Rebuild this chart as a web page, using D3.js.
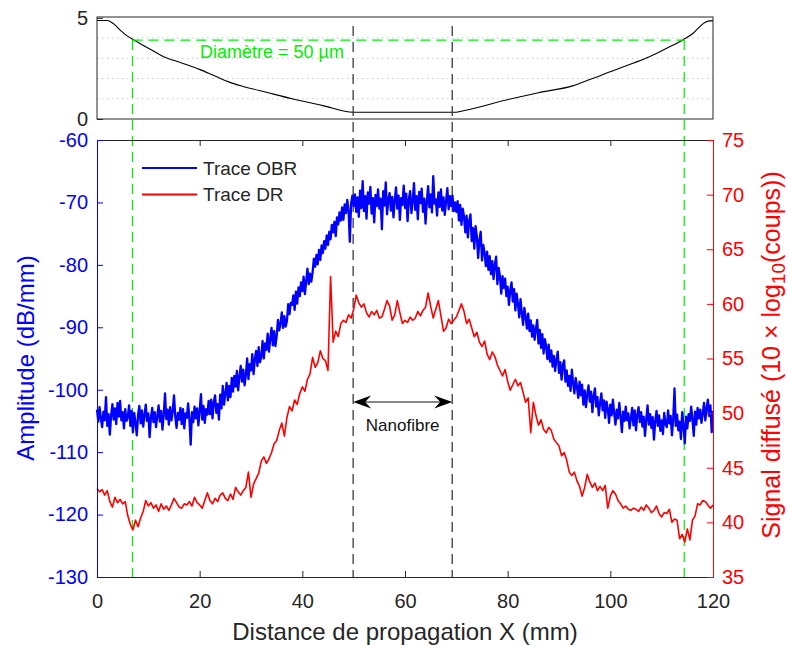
<!DOCTYPE html>
<html><head><meta charset="utf-8">
<script src="https://cdn.jsdelivr.net/npm/d3@7"></script>
<style>html,body{margin:0;padding:0;background:#fff;}svg{display:block;font-family:"Liberation Sans",Arial,Helvetica,sans-serif;}</style>
</head><body>
<script>
// ---------- DATA ----------
const xTicks = [0, 20, 40, 60, 80, 100, 120];
const leftTicks = [-130, -120, -110, -100, -90, -80, -70, -60];
const rightTicks = [35, 40, 45, 50, 55, 60, 65, 70, 75];
const topTicks = [0, 5];
const topGrid = [1, 2, 3, 4];
const seriesNames = ["Trace OBR", "Trace DR"];

// OBR trace (dB/mm), uniform sampling over 0..120 mm
const obrValues = [
-103.2,-105.1,-102.8,-104.6, -106.0,-103.5,-104.9,-101.2, -105.8,-103.9,-107.2,-104.1, -102.3,-104.8,-103.0,-105.5,
-102.1,-104.3,-101.8,-104.9, -103.6,-106.2,-103.1,-105.0, -104.4,-102.5,-105.8,-103.4, -106.8,-103.7,-105.3,-107.3,
-104.0,-102.6,-105.4,-103.3, -105.9,-104.1,-102.4,-105.0, -103.8,-107.6,-104.5,-102.9, -105.2,-103.6,-106.0,-104.2,
-102.5,-105.1,-103.4,-106.4, -104.0,-100.6,-104.7,-103.2, -105.6,-102.8,-104.9,-103.5, -100.9,-104.3,-106.1,-103.7,
-104.8,-102.9,-105.5,-103.1, -106.2,-103.8,-104.5,-102.2, -104.7,-108.8,-103.6,-105.2, -102.7,-104.6,-103.0,-105.7,
-103.4,-100.7,-104.8,-102.6, -105.3,-103.1,-104.0,-101.8,
-103.9,-101.6,-104.6,-102.0, -100.9,-103.7,-102.3,-104.8, -100.8,-103.0,-99.4,-102.4, -100.6,-98.9,-101.7,-99.4,
-101.2,-98.1,-100.3,-97.8, -99.5,-97.0,-100.1,-97.9, -96.2,-98.7,-96.8,-99.3, -97.6,-95.0,-98.3,-95.9,
-96.9,-94.3,-97.5,-95.1, -93.8,-96.2,-93.2,-95.6, -94.8,-92.2,-95.0,-92.6, -93.6,-91.0,-93.9,-91.8,
-90.1,-92.9,-90.6,-93.0, -91.4,-88.8,-90.5,-89.4, -87.6,-90.1,-88.2,-89.9, -89.0,-86.3,-87.9,-86.1,
-86.4,-84.9,-87.2,-84.3, -86.2,-83.6,-85.0,-82.8, -84.2,-81.9,-84.7,-82.6, -80.6,-83.1,-81.4,-82.7,
-81.2,-79.0,-80.3,-78.4, -79.9,-77.6,-79.2,-76.9, -78.1,-76.2,-77.4,-75.3, -76.8,-74.7,-75.9,-73.6,
-74.8,-73.1,-75.4,-72.4, -73.5,-71.6,-72.9,-70.8, -72.8,-70.3,-71.7,-69.6, -71.3,-76.3,-70.2,-68.9,
-70.6,-68.7,-71.5,-69.2, -72.3,-68.1,-70.9,-66.6, -71.4,-69.0,-72.6,-68.4, -70.2,-67.5,-71.8,-69.3,
-73.2,-68.8,-70.6,-67.9, -71.0,-69.4,-74.3,-68.2, -70.5,-66.8,-71.9,-69.6, -68.5,-71.3,-69.1,-72.4,
-69.7,-67.6,-71.0,-68.9, -72.8,-69.3,-70.4,-67.3, -70.9,-68.6,-73.0,-69.5, -68.2,-71.7,-69.8,-66.9,
-71.2,-69.0,-72.7,-68.3, -70.1,-67.8,-71.5,-69.4, -73.4,-69.9,-67.4,-70.8, -68.7,-71.6,-65.8,-70.2,
-69.5,-72.1,-68.4,-70.7, -67.9,-71.3,-69.2,-72.0, -69.8,-67.7,-71.1,-69.0, -70.6,-68.9,-71.4,-70.0,
-71.5,-69.8,-72.9,-70.4, -73.6,-71.0,-72.3,-74.8, -72.1,-75.6,-73.0,-71.9, -76.2,-74.1,-77.4,-73.8,
-75.5,-78.9,-76.0,-74.7, -79.3,-76.8,-78.1,-80.2, -77.9,-80.8,-78.6,-81.5, -79.4,-82.3,-80.0,-78.7,
-83.1,-80.5,-81.9,-84.6, -81.8,-83.7,-82.2,-85.0, -83.5,-86.4,-84.1,-82.8, -85.9,-83.9,-87.3,-84.6,
-86.2,-88.4,-85.5,-87.7, -89.6,-86.9,-88.3,-90.2, -87.8,-90.6,-88.9,-91.5, -89.7,-92.0,-90.3,-88.8,
-92.6,-90.4,-93.3,-91.1, -94.2,-91.9,-93.0,-95.1, -92.8,-95.5,-93.7,-96.3, -94.6,-97.0,-95.2,-93.9,
-97.3,-95.6,-98.4,-96.0, -95.3,-98.7,-96.9,-99.4, -97.8,-100.2,-96.8,-98.9, -100.6,-98.1,-99.5,-101.3,
-98.7,-100.9,-99.2,-102.4, -100.1,-102.8,-100.7,-99.3, -101.9,-100.3,-103.6,-101.0, -99.8,-102.7,-101.2,-104.1,
-102.2,-100.6,-103.3,-101.7, -104.5,-101.9,-103.0,-105.3, -102.4,-104.1,-101.6,-103.8, -105.6,-103.2,-104.6,-102.1,
-104.3,-106.8,-103.5,-105.0, -102.7,-104.9,-103.8,-106.2, -104.6,-102.9,-105.7,-103.3, -106.5,-104.0,-102.8,-105.2,
-103.6,-105.9,-104.3,-107.4, -104.8,-102.5,-105.6,-103.9, -106.1,-104.4,-108.0,-105.0, -103.4,-105.8,-104.1,-106.6,
-104.9,-107.1,-103.7,-105.5, -106.0,-103.3,-105.4,-104.2, -107.3,-104.7,-99.8,-105.8, -104.0,-106.5,-105.1,-107.9,
-103.6,-105.7,-108.6,-104.3, -106.2,-103.9,-105.0,-102.7, -104.8,-107.4,-103.5,-105.6, -102.9,-104.6,-103.2,-105.3,
-103.8,-102.1,-104.9,-103.0, -101.6,-104.2,-102.5,-106.8,
-103.4
];

// DR trace (10 x log10(counts)), uniform sampling over 0..120 mm
const drValues = [
43.1,42.8,43.0,42.5,42.9,41.9,41.4,42.3,41.8,42.1,
41.7,41.9,40.6,39.8,39.3,40.2,39.6,40.4,41.0,42.0,
41.5,41.8,41.3,41.6,41.0,41.7,41.2,41.5,41.1,41.6,
42.2,41.8,41.4,41.3,41.7,41.6,41.9,41.5,42.3,41.8,
41.6,41.3,42.0,42.7,42.0,41.7,42.2,41.9,42.5,42.7,
42.2,42.0,42.6,42.1,43.2,42.8,42.5,42.9,43.2,44.6,
42.3,43.5,44.0,44.5,45.6,46.0,45.4,45.8,46.4,47.2,
47.5,48.4,49.1,47.9,49.6,50.6,50.2,51.2,50.8,51.8,
52.4,52.0,53.1,53.6,55.1,54.2,54.6,55.7,55.0,54.8,
53.9,62.5,56.5,57.5,57.0,58.2,58.5,58.3,59.0,58.7,
59.5,60.8,60.1,59.7,60.0,59.2,58.8,59.3,59.0,59.4,
58.7,58.8,59.5,60.3,59.8,58.5,59.0,60.3,59.2,58.2,
58.5,58.3,58.8,58.5,58.7,59.3,58.9,59.4,59.7,61.0,
59.8,58.7,59.5,60.3,58.9,57.5,57.8,58.6,58.2,58.5,
58.8,59.4,60.0,59.3,58.2,58.6,57.8,57.0,57.4,56.5,
56.1,56.6,55.4,54.9,55.6,55.2,54.4,53.9,53.4,54.0,
52.9,52.1,52.6,53.1,52.5,52.8,51.9,51.0,51.4,48.2,
51.0,49.8,48.9,49.4,48.5,48.2,48.7,48.4,47.6,47.3,
47.0,46.1,46.4,45.7,44.6,44.3,44.6,43.8,43.3,42.4,
43.2,44.4,43.7,43.2,43.6,42.9,43.3,42.9,43.4,41.3,
42.4,42.9,42.6,42.0,41.7,41.3,41.5,41.2,41.1,41.3,
41.2,41.0,41.4,41.1,41.6,41.3,40.9,41.1,41.5,40.8,
40.5,40.9,40.8,41.2,40.0,40.3,40.2,38.5,38.9,38.2,
39.4,38.4,40.2,40.6,41.7,41.6,42.0,41.9,41.6,41.3,
41.6
];

// Fibre profile (top panel)
const profileX = [0,2.0,3.2,4.0,4.8,5.8,7.1,10,12.9,16.5,20.1,23,25.9,28.5,33,38.2,44,49.9,69.8,70.5,80.5,86,92.8,96,98,99.3,103,107.7,111,114.2,116.2,117.5,118.4,119.3,120];
const profileY = [4.87,4.87,4.71,4.52,4.33,4.12,3.92,3.5,3.09,2.77,2.44,2.12,1.81,1.61,1.32,0.99,0.66,0.33,0.33,0.36,0.99,1.3,1.65,1.95,2.14,2.27,2.62,3.09,3.5,3.92,4.25,4.58,4.77,4.85,4.85];

const nanofibreBounds = [49.9, 69.2];   // mm
const diameterBounds = [6.9, 114.4];    // mm
const diameterLevel = 3.9;              // top panel value
const diameterLabel = "Diamètre = 50 µm";
const nanofibreLabel = "Nanofibre";

// ---------- DRAW ----------
const W = 788, H = 645;
const svg = d3.select("body").append("svg").attr("width", W).attr("height", H);

const x = d3.scaleLinear().domain([0, 120]).range([97, 713]);
const yL = d3.scaleLinear().domain([-130, -60]).range([577, 140]);
const yR = d3.scaleLinear().domain([35, 75]).range([577, 140]);
const yT = d3.scaleLinear().domain([0, 5.04]).range([119, 17]);

const dark = "#262626";
const BLUE = "#0000ff", RED = "#ff0000", GREEN = "#00ee00";
const fontAx = "Liberation Sans, Arial, sans-serif";
const plain = d => String(d);

// ----- top panel -----
const gTop = svg.append("g");
gTop.selectAll("line.grid").data(topGrid).enter().append("line")
  .attr("x1", x(0)).attr("x2", x(120)).attr("y1", d => yT(d)).attr("y2", d => yT(d))
  .attr("stroke", "#c8c8c8").attr("stroke-width", 1).attr("stroke-dasharray", "1.5,3.5");
gTop.append("path")
  .datum(profileX.map((d, i) => [d, profileY[i]]))
  .attr("fill", "none").attr("stroke", "#000").attr("stroke-width", 1.1)
  .attr("d", d3.line().x(d => x(d[0])).y(d => yT(d[1])).curve(d3.curveMonotoneX));
gTop.append("rect").attr("x", x(0)).attr("y", yT(5.04)).attr("width", x(120) - x(0)).attr("height", yT(0) - yT(5.04))
  .attr("fill", "none").attr("stroke", dark).attr("stroke-width", 1);
const topAxis = d3.axisLeft(yT).tickValues(topTicks).tickSize(-6).tickPadding(9).tickFormat(plain);
gTop.append("g").attr("transform", `translate(${x(0)},0)`).call(topAxis)
  .call(g => g.select(".domain").remove())
  .call(g => g.selectAll("line").attr("stroke", dark))
  .call(g => g.selectAll("text").attr("fill", dark).attr("font-size", 20).attr("font-family", fontAx));

// ----- main panel -----
const gMain = svg.append("g");

// reference lines
gMain.selectAll("line.nano").data(nanofibreBounds).enter().append("line")
  .attr("x1", d => x(d)).attr("x2", d => x(d)).attr("y1", 26).attr("y2", 577)
  .attr("stroke", "#3a3a3a").attr("stroke-width", 1.3).attr("stroke-dasharray", "10,6");
gMain.selectAll("line.diam").data(diameterBounds).enter().append("line")
  .attr("x1", d => x(d)).attr("x2", d => x(d)).attr("y1", yT(diameterLevel)).attr("y2", 577)
  .attr("stroke", GREEN).attr("stroke-width", 1.2).attr("stroke-dasharray", "10,6");
gMain.append("line")
  .attr("x1", x(diameterBounds[0])).attr("x2", x(diameterBounds[1]))
  .attr("y1", yT(diameterLevel)).attr("y2", yT(diameterLevel))
  .attr("stroke", GREEN).attr("stroke-width", 1.2).attr("stroke-dasharray", "10,6");
svg.append("text").attr("x", 272).attr("y", 58).attr("text-anchor", "middle")
  .attr("font-size", 18).attr("fill", GREEN).text(diameterLabel);

// data lines
const nB = obrValues.length, nR = drValues.length;
gMain.append("path").datum(obrValues)
  .attr("fill", "none").attr("stroke", BLUE).attr("stroke-width", 2.3).attr("stroke-linejoin", "round")
  .attr("d", d3.line().x((d, i) => x(i * 120 / (nB - 1))).y(d => yL(d)));
gMain.append("path").datum(drValues)
  .attr("fill", "none").attr("stroke", RED).attr("stroke-width", 1.6).attr("stroke-linejoin", "round")
  .attr("d", d3.line().x((d, i) => x(i * 120 / (nR - 1))).y(d => yR(d)));

// axes
const bottom = d3.axisBottom(x).tickValues(xTicks).tickSize(-6).tickPadding(17).tickFormat(plain);
gMain.append("g").attr("transform", "translate(0,577)").call(bottom)
  .call(g => g.select(".domain").attr("stroke", dark))
  .call(g => g.selectAll("line").attr("stroke", dark))
  .call(g => g.selectAll("text").attr("fill", dark).attr("font-size", 20).attr("font-family", fontAx));
const topA = d3.axisTop(x).tickValues(xTicks).tickSize(-6).tickFormat("");
gMain.append("g").attr("transform", "translate(0,140)").call(topA)
  .call(g => g.select(".domain").attr("stroke", dark))
  .call(g => g.selectAll("line").attr("stroke", dark));
const left = d3.axisLeft(yL).tickValues(leftTicks).tickSize(-6).tickPadding(9).tickFormat(plain);
gMain.append("g").attr("transform", "translate(97,0)").call(left)
  .call(g => g.select(".domain").attr("stroke", BLUE))
  .call(g => g.selectAll("line").attr("stroke", BLUE))
  .call(g => g.selectAll("text").attr("fill", BLUE).attr("font-size", 20).attr("font-family", fontAx));
const right = d3.axisRight(yR).tickValues(rightTicks).tickSize(-6).tickPadding(9).tickFormat(plain);
gMain.append("g").attr("transform", "translate(713,0)").call(right)
  .call(g => g.select(".domain").attr("stroke", RED))
  .call(g => g.selectAll("line").attr("stroke", RED))
  .call(g => g.selectAll("text").attr("fill", RED).attr("font-size", 20).attr("font-family", fontAx));

// axis labels
svg.append("text").attr("x", 405).attr("y", 640).attr("text-anchor", "middle")
  .attr("font-size", 24).attr("fill", dark).text("Distance de propagation X (mm)");
svg.append("text").attr("transform", "translate(25,358) rotate(-90)").attr("text-anchor", "middle")
  .attr("dominant-baseline", "central").attr("font-size", 24).attr("fill", BLUE).text("Amplitude (dB/mm)");
const rl = svg.append("text").attr("transform", "translate(771,355) rotate(-90)").attr("text-anchor", "middle")
  .attr("dominant-baseline", "central").attr("font-size", 25).attr("fill", RED);
rl.append("tspan").text("Signal diffusé (10 × log");
rl.append("tspan").attr("font-size", 19).attr("dy", 7).text("10");
rl.append("tspan").attr("dy", -7).text("(coups))");

// legend
const legCol = [BLUE, RED];
const leg = svg.append("g");
seriesNames.forEach((name, i) => {
  const yy = 168 + i * 26.5;
  leg.append("line").attr("x1", 142).attr("x2", 197).attr("y1", yy).attr("y2", yy)
    .attr("stroke", legCol[i]).attr("stroke-width", 1.8);
  leg.append("text").attr("x", 203).attr("y", yy).attr("dominant-baseline", "central")
    .attr("font-size", 19).attr("fill", dark).text(name);
});

// nanofibre arrow
const ax1 = x(nanofibreBounds[0]), ax2 = x(nanofibreBounds[1]), ay = 402;
svg.append("line").attr("x1", ax1 + 4).attr("x2", ax2 - 4).attr("y1", ay).attr("y2", ay)
  .attr("stroke", "#111").attr("stroke-width", 1.2);
const head = (tx, dir) => `M${tx},${ay} L${tx + dir * 18},${ay - 6.5} L${tx + dir * 12},${ay} L${tx + dir * 18},${ay + 6.5} Z`;
svg.append("path").attr("d", head(ax1, 1)).attr("fill", "#000");
svg.append("path").attr("d", head(ax2, -1)).attr("fill", "#000");
svg.append("text").attr("x", (ax1 + ax2) / 2).attr("y", 425).attr("text-anchor", "middle")
  .attr("dominant-baseline", "central").attr("font-size", 17).attr("fill", "#111").text(nanofibreLabel);
</script>
</body></html>
